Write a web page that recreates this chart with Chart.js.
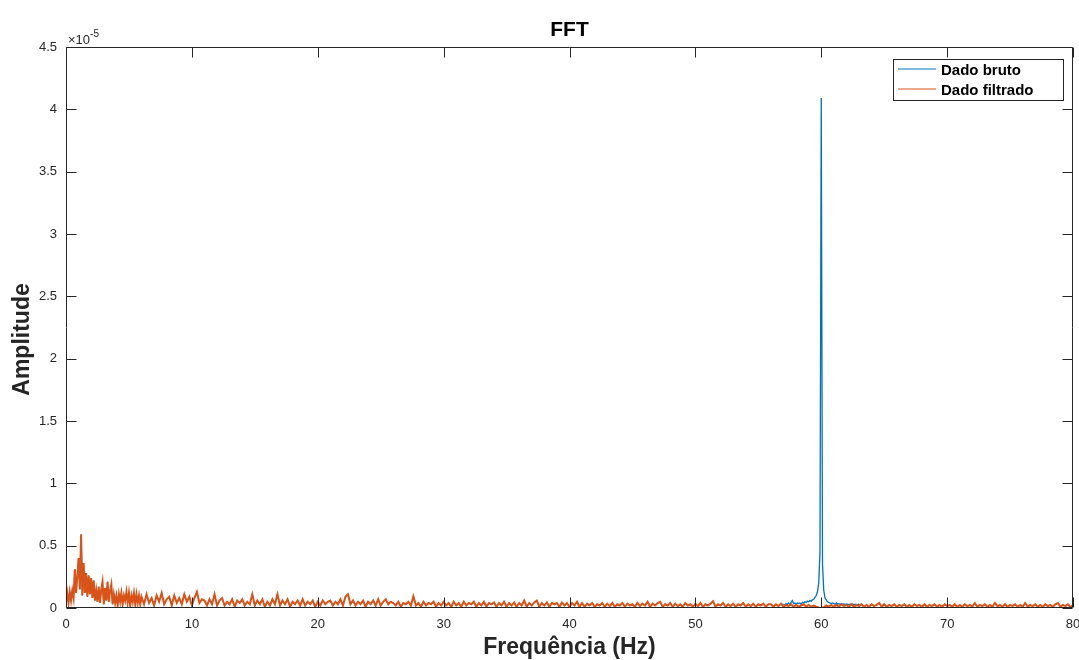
<!DOCTYPE html>
<html>
<head>
<meta charset="utf-8">
<title>FFT</title>
<script src="https://cdn.jsdelivr.net/npm/chart.js@4.4.1/dist/chart.umd.min.js"></script>
<style>
   html, body { margin: 0; padding: 0; background: #fff; }
   #fft { display: block; }
</style>
</head>
<body>
<canvas id="fft" width="1079" height="660"></canvas>
<script>
// amplitudes are stored in units of 1e-5 (the axis shows the x10^-5 factor)
const xTickValues = [0, 10, 20, 30, 40, 50, 60, 70, 80];
const yTickValues = [0, 0.5, 1, 1.5, 2, 2.5, 3, 3.5, 4, 4.5];

// filtered signal, 0 - 5.9 Hz every 0.1 Hz
const filtLowStart = 0;
const filtLowStep = 0.1;
const filtradoLow = [
   0.05, 0.12, 0.04, 0.13, 0.06, 0.14, 0.08, 0.31, 0.12, 0.25,
   0.40, 0.15, 0.59, 0.10, 0.36, 0.12, 0.28, 0.09, 0.26, 0.11,
   0.24, 0.08, 0.22, 0.06, 0.14, 0.05, 0.17, 0.04, 0.15, 0.21,
   0.03, 0.16, 0.06, 0.21, 0.05, 0.14, 0.19, 0.03, 0.11, 0.04,
   0.10, 0.02, 0.11, 0.05, 0.12, 0.03, 0.10, 0.06, 0.13, 0.04,
   0.12, 0.02, 0.10, 0.05, 0.12, 0.03, 0.11, 0.04, 0.10, 0.03
];

// filtered signal, 6 - 80 Hz every 0.2 Hz (one row = 5 Hz)
const filtHighStart = 6;
const filtHighStep = 0.2;
const filtradoHigh = [
   0.09, 0.03, 0.11, 0.04, 0.08, 0.02, 0.10, 0.05, 0.12, 0.03, 0.07, 0.09, 0.02, 0.10, 0.04, 0.08, 0.03, 0.11, 0.05, 0.09, 0.02, 0.08, 0.13, 0.04, 0.07,
   0.06, 0.02, 0.07, 0.03, 0.11, 0.02, 0.06, 0.08, 0.02, 0.05, 0.03, 0.07, 0.01, 0.06, 0.04, 0.07, 0.02, 0.05, 0.03, 0.11, 0.02, 0.06, 0.03, 0.07, 0.01,
   0.05, 0.02, 0.07, 0.03, 0.11, 0.02, 0.06, 0.03, 0.07, 0.01, 0.05, 0.03, 0.06, 0.02, 0.07, 0.02, 0.05, 0.03, 0.06, 0.01, 0.05, 0.02, 0.06, 0.03, 0.05,
   0.06, 0.02, 0.05, 0.03, 0.07, 0.02, 0.09, 0.11, 0.03, 0.06, 0.02, 0.05, 0.03, 0.06, 0.01, 0.05, 0.03, 0.06, 0.02, 0.07, 0.02, 0.05, 0.07, 0.03, 0.05,
   0.04, 0.02, 0.05, 0.01, 0.04, 0.03, 0.05, 0.02, 0.094, 0.02, 0.04, 0.01, 0.05, 0.02, 0.04, 0.03, 0.05, 0.01, 0.04, 0.02, 0.05, 0.02, 0.04, 0.01, 0.05,
   0.02, 0.04, 0.01, 0.05, 0.02, 0.04, 0.03, 0.05, 0.01, 0.04, 0.02, 0.05, 0.01, 0.04, 0.03, 0.045, 0.01, 0.04, 0.02, 0.05, 0.01, 0.04, 0.02, 0.045, 0.01,
   0.04, 0.02, 0.06, 0.01, 0.04, 0.02, 0.045, 0.06, 0.01, 0.04, 0.02, 0.045, 0.01, 0.04, 0.03, 0.04, 0.01, 0.045, 0.02, 0.04, 0.01, 0.04, 0.02, 0.05, 0.01,
   0.04, 0.01, 0.035, 0.02, 0.04, 0.01, 0.03, 0.02, 0.04, 0.01, 0.035, 0.015, 0.04, 0.01, 0.03, 0.02, 0.04, 0.01, 0.035, 0.02, 0.03, 0.01, 0.04, 0.015, 0.035,
   0.02, 0.05, 0.01, 0.035, 0.02, 0.04, 0.05, 0.01, 0.03, 0.02, 0.04, 0.01, 0.035, 0.015, 0.03, 0.01, 0.04, 0.02, 0.03, 0.01, 0.035, 0.015, 0.04, 0.01, 0.03,
   0.02, 0.035, 0.055, 0.01, 0.03, 0.02, 0.04, 0.01, 0.03, 0.015, 0.035, 0.01, 0.03, 0.02, 0.04, 0.01, 0.03, 0.015, 0.035, 0.01, 0.03, 0.02, 0.035, 0.01, 0.03,
   0.03, 0.01, 0.03, 0.015, 0.035, 0.01, 0.025, 0.015, 0.03, 0.01, 0.025, 0.01, 0.02, 0.03, 0.01, 0.025, 0.01, 0.02, 0.01, 0.005, 0.002, 0.006, 0.02, 0.01, 0.025,
   0.01, 0.025, 0.01, 0.03, 0.015, 0.025, 0.01, 0.03, 0.01, 0.025, 0.015, 0.03, 0.01, 0.025, 0.01, 0.03, 0.015, 0.025, 0.04, 0.01, 0.03, 0.01, 0.025, 0.015, 0.03,
   0.01, 0.025, 0.015, 0.03, 0.01, 0.025, 0.01, 0.03, 0.015, 0.025, 0.01, 0.03, 0.01, 0.025, 0.015, 0.03, 0.01, 0.025, 0.01, 0.03, 0.015, 0.025, 0.01, 0.03, 0.01,
   0.025, 0.01, 0.03, 0.015, 0.025, 0.01, 0.04, 0.01, 0.025, 0.015, 0.03, 0.01, 0.025, 0.01, 0.04, 0.015, 0.025, 0.01, 0.03, 0.01, 0.025, 0.015, 0.03, 0.01, 0.025,
   0.01, 0.04, 0.01, 0.025, 0.015, 0.03, 0.01, 0.025, 0.01, 0.03, 0.015, 0.025, 0.01, 0.03, 0.04, 0.01, 0.025, 0.015, 0.03, 0.01, 0.02
];

// raw signal around the 60 Hz mains peak, every 0.1 Hz from 57 to 63 Hz;
// elsewhere the raw spectrum lies under the filtered one
const brutoPeakStart = 57;
const brutoPeakEnd = 63;
const brutoPeakStep = 0.1;
const brutoPeak = [
   0.03, 0.02, 0.035, 0.03, 0.04, 0.03, 0.045, 0.06, 0.035, 0.04,
   0.03, 0.04, 0.035, 0.04, 0.03, 0.045, 0.04, 0.05, 0.045, 0.055,
   0.05, 0.06, 0.055, 0.065, 0.07, 0.085, 0.10, 0.13, 0.20, 0.45,
   4.09, 0.35, 0.14, 0.08, 0.065, 0.05, 0.045, 0.04, 0.035, 0.04,
   0.035, 0.03, 0.04, 0.03, 0.035, 0.03, 0.035, 0.03, 0.032, 0.028,
   0.03, 0.03, 0.025, 0.03, 0.028, 0.032, 0.026, 0.03, 0.025, 0.028,
   0.03
];

const blue = '#0072BD';
const orange = '#D95319';
const axisColor = '#262626';
const fontFamily = "'Liberation Sans', Arial, Helvetica, sans-serif";

function toPoints(values, start, step) {
   return values.map((v, i) => ({ x: +(start + i * step).toFixed(3), y: v }));
}

const filtradoPoints = [
   ...toPoints(filtradoLow, filtLowStart, filtLowStep),
   ...toPoints(filtradoHigh, filtHighStart, filtHighStep)
];
const brutoPoints = [
   ...filtradoPoints.filter(p => p.x < brutoPeakStart || p.x > brutoPeakEnd),
   ...toPoints(brutoPeak, brutoPeakStart, brutoPeakStep)
].sort((a, b) => a.x - b.x);

// thin where it hides under the filtered curve, normal around the peak
function brutoWidth(ctx) {
   const x0 = ctx.p0.parsed.x;
   return (x0 >= brutoPeakStart && x0 < brutoPeakEnd) ? 1.3 : 0.8;
}

// box, inward ticks, legend and texts in the matlab figure style
const matlabFrame = {
   id: 'matlabFrame',
   afterDatasetsDraw(chart) {
      const { ctx, chartArea: a, scales: { x, y } } = chart;
      const L = a.left + 0.5, R = a.right - 0.5, T = a.top + 0.5, B = a.bottom - 0.5;
      ctx.save();
      ctx.strokeStyle = axisColor;
      ctx.lineWidth = 1;
      ctx.beginPath();
      ctx.rect(L, T, R - L, B - T);
      for (const t of x.ticks) {
         const px = Math.round(x.getPixelForValue(t.value)) + 0.5;
         ctx.moveTo(px, B); ctx.lineTo(px, B - 10);
         ctx.moveTo(px, T); ctx.lineTo(px, T + 10);
      }
      for (const t of y.ticks) {
         const py = Math.round(y.getPixelForValue(t.value)) + 0.5;
         ctx.moveTo(L, py); ctx.lineTo(L + 10, py);
         ctx.moveTo(R, py); ctx.lineTo(R - 10, py);
      }
      ctx.stroke();

      // legend
      const lx = 893.5, ly = 59.5, lw = 170, lh = 41;
      const lineColors = [blue, orange];
      ctx.fillStyle = '#fff';
      ctx.fillRect(lx, ly, lw, lh);
      ctx.strokeStyle = axisColor;
      ctx.strokeRect(lx, ly, lw, lh);
      ctx.font = `bold 15px ${fontFamily}`;
      ctx.textBaseline = 'middle';
      ctx.textAlign = 'left';
      chart.data.datasets.forEach((ds, i) => {
         const rowY = 69 + i * 20;
         ctx.strokeStyle = lineColors[i];
         ctx.lineWidth = 1;
         ctx.beginPath();
         ctx.moveTo(898, rowY);
         ctx.lineTo(936, rowY);
         ctx.stroke();
         ctx.fillStyle = '#000';
         ctx.fillText(ds.label, 941, rowY + 1.5);
      });
      ctx.restore();
   },
   afterDraw(chart) {
      const { ctx, chartArea: a } = chart;
      const cx = (a.left + a.right) / 2;
      ctx.save();
      ctx.fillStyle = '#000';
      ctx.textAlign = 'center';
      ctx.textBaseline = 'alphabetic';
      ctx.font = `bold 21px ${fontFamily}`;
      ctx.fillText('FFT', cx, 36);

      ctx.fillStyle = axisColor;
      ctx.font = `bold 23px ${fontFamily}`;
      ctx.fillText('Frequência (Hz)', cx, 654);

      ctx.save();
      ctx.translate(29, (a.top + a.bottom) / 2 + 12);
      ctx.rotate(-Math.PI / 2);
      ctx.fillText('Amplitude', 0, 0);
      ctx.restore();

      // exponent of the y axis
      ctx.textAlign = 'left';
      ctx.font = `13px ${fontFamily}`;
      const base = '\u00d710';
      ctx.fillText(base, a.left + 2, 44);
      const w = ctx.measureText(base).width;
      ctx.font = `10px ${fontFamily}`;
      ctx.fillText('-5', a.left + 2 + w, 37);
      ctx.restore();
   }
};

Chart.defaults.font.family = fontFamily;
Chart.defaults.color = axisColor;

const chart = new Chart(document.getElementById('fft'), {
   type: 'line',
   data: {
      datasets: [
         {
            label: 'Dado bruto',
            data: brutoPoints,
            borderColor: blue,
            borderWidth: 1.3,
            segment: { borderWidth: brutoWidth },
            pointRadius: 0,
            tension: 0,
            order: 2
         },
         {
            label: 'Dado filtrado',
            data: filtradoPoints,
            borderColor: orange,
            borderWidth: 2,
            pointRadius: 0,
            tension: 0,
            order: 1
         }
      ]
   },
   options: {
      responsive: false,
      animation: false,
      events: [],
      layout: { padding: { top: 47, right: 6, left: 0, bottom: 0 } },
      plugins: {
         legend: { display: false },
         title: { display: false },
         tooltip: { enabled: false }
      },
      scales: {
         x: {
            type: 'linear',
            min: 0,
            max: 80,
            afterBuildTicks: (s) => { s.ticks = xTickValues.map(v => ({ value: v })); },
            afterFit: (s) => { s.height = 52; s.paddingLeft = 0; s.paddingRight = 0; },
            grid: { display: false, drawTicks: false },
            border: { display: false },
            ticks: {
               autoSkip: false,
               maxRotation: 0,
               padding: 9,
               color: axisColor,
               font: { size: 13 }
            }
         },
         y: {
            type: 'linear',
            min: 0,
            max: 4.5,
            afterBuildTicks: (s) => { s.ticks = yTickValues.map(v => ({ value: v })); },
            afterFit: (s) => { s.width = 66; s.paddingTop = 0; s.paddingBottom = 0; },
            grid: { display: false, drawTicks: false },
            border: { display: false },
            ticks: {
               autoSkip: false,
               padding: 9,
               color: axisColor,
               font: { size: 13 },
               callback: (v) => `${v}`
            }
         }
      }
   },
   plugins: [matlabFrame]
});
</script>
</body>
</html>
